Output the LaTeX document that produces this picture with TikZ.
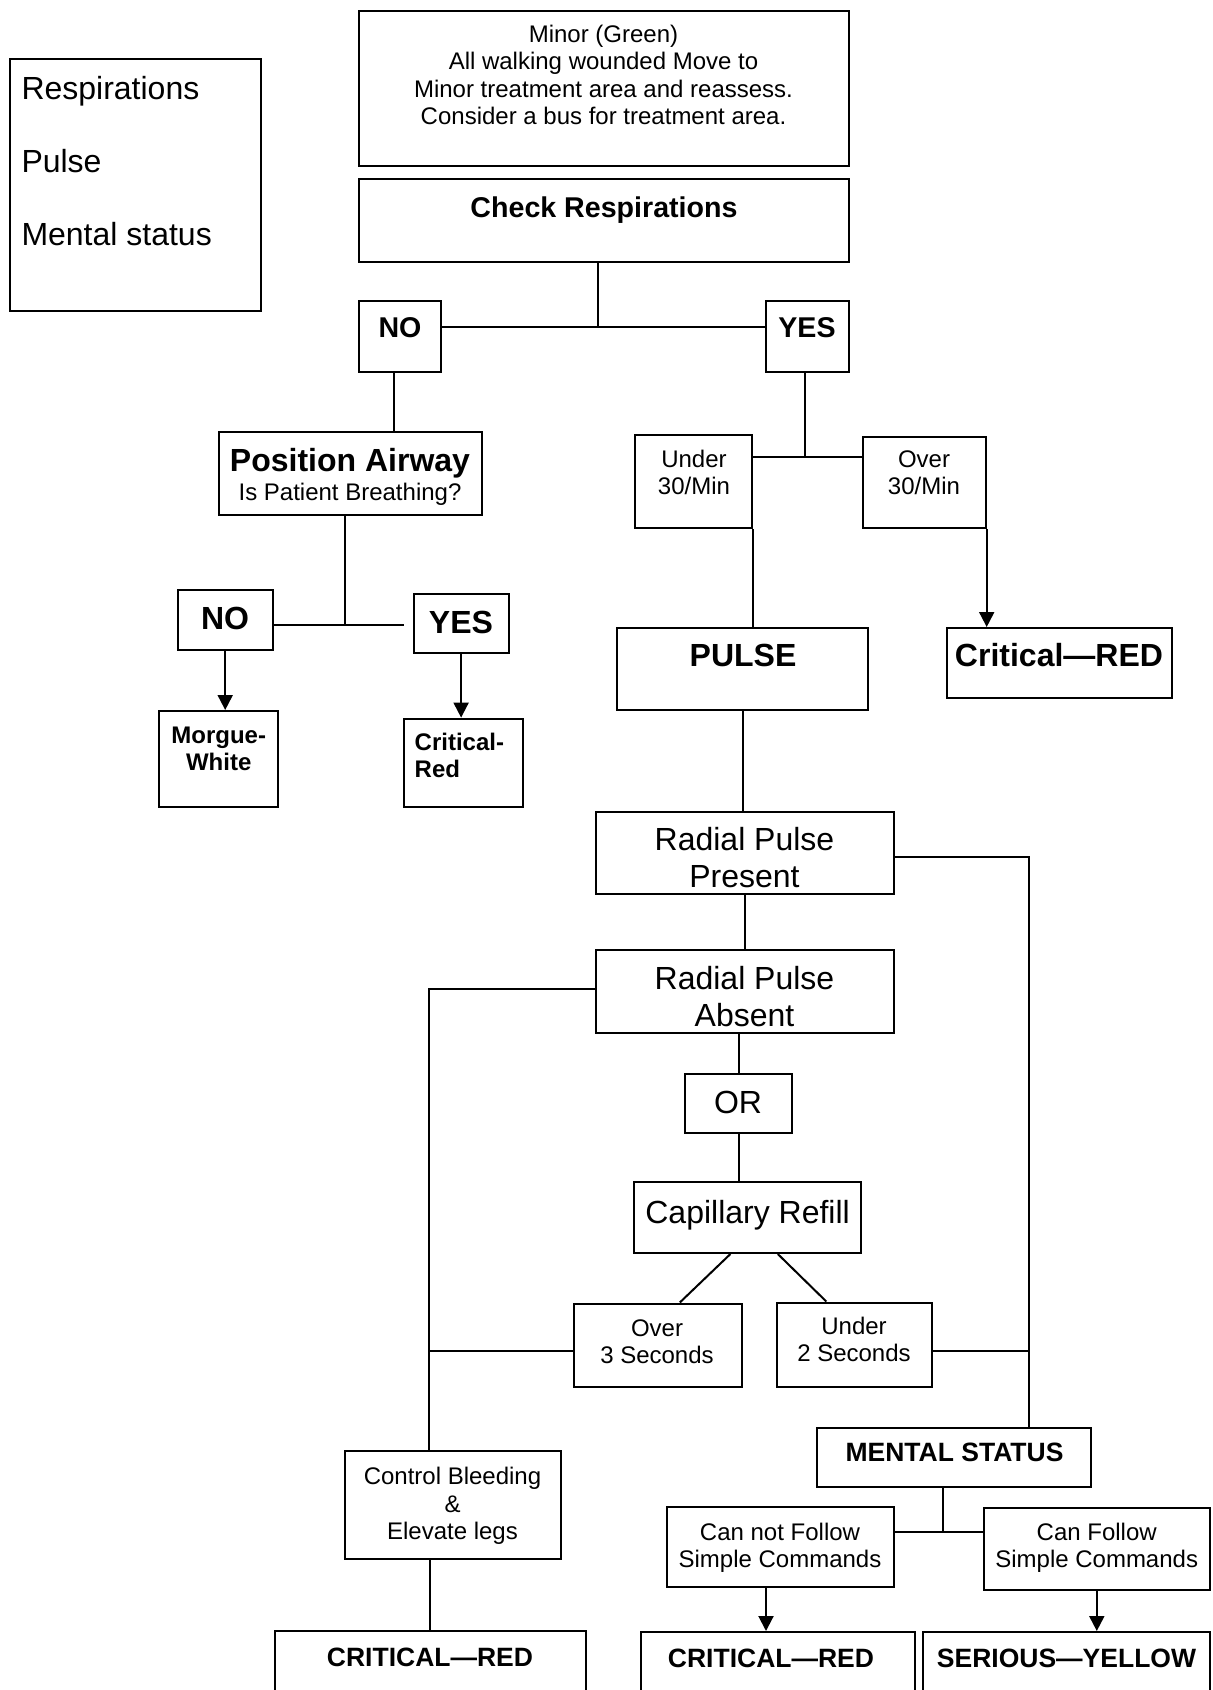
\documentclass[tikz,border=0pt]{standalone}
\usepackage{fontspec}
\setmainfont{Liberation Sans}
\usetikzlibrary{arrows.meta,fit}
\newcommand\mybox[5]{\node[box, fit={(#2,#3) (#4,#5)}] (#1) {};}
\begin{document}
\begin{tikzpicture}[x=0.5pt,y=-0.5pt, line width=1pt,
  box/.style={draw, inner sep=0pt},
  arr/.style={-{Triangle[length=7.5pt,width=7.5pt]}},
  tx/.style={inner sep=0pt, text depth=0pt, align=center},
  t12/.style={tx, font=\fontsize{12}{13.8}\selectfont, text height=8.6pt},
  t16/.style={tx, font=\fontsize{16}{18.3}\selectfont, text height=11.5pt},
  b12/.style={tx, font=\bfseries\fontsize{12}{13.2}\selectfont, text height=8.6pt},
  b13/.style={tx, font=\bfseries\fontsize{13.25}{15}\selectfont, text height=9.5pt},
  b14/.style={tx, font=\bfseries\fontsize{14.3}{16}\selectfont, text height=10.3pt},
  b16/.style={tx, font=\bfseries\fontsize{16}{18}\selectfont, text height=11.5pt}]
\useasboundingbox (0,0) rectangle (1212,1690);
% boxes
\mybox{leg}{9.7}{59}{261}{311}
\mybox{minor}{359}{11}{849}{166}
\mybox{chk}{359}{179}{849}{262}
\mybox{no}{359}{300.6}{440.6}{371.7}
\mybox{yes}{766}{300.6}{849}{371.7}
\mybox{pa}{218.7}{432}{481.6}{515}
\mybox{no2}{177.8}{590.4}{272.6}{649.6}
\mybox{yes2}{413.7}{593.6}{508.5}{652.8}
\mybox{mo}{159.4}{711}{278}{807}
\mybox{cr}{404}{718.6}{522.5}{807}
\mybox{un}{634.5}{435}{752}{528}
\mybox{ov}{863}{437.4}{985.7}{528}
\mybox{crit1}{947}{628}{1172}{698}
\mybox{pulse}{617}{628}{868}{710}
\mybox{rpp}{595.7}{812}{894}{894}
\mybox{rpa}{595.7}{950}{894}{1033}
\mybox{or}{685}{1074}{792}{1133}
\mybox{cap}{633.5}{1182}{861}{1253}
\mybox{o3}{574}{1303.5}{742}{1386.5}
\mybox{u2}{776.7}{1302.5}{932}{1386.5}
\mybox{cb}{344.7}{1451}{561}{1559}
\mybox{crit2}{274.7}{1631}{586}{1700}
\mybox{ms}{816.6}{1427.5}{1091}{1486.7}
\mybox{cnf}{666.8}{1507}{894}{1587}
\mybox{cf}{983.6}{1508}{1210}{1590}
\mybox{crit3}{641}{1632}{914.6}{1700}
\mybox{ser}{923}{1632}{1210}{1700}
% texts (multi-line nodes are placed at their last line)
\node[tx, anchor=west, align=left, font=\fontsize{16}{36.5}\selectfont, text height=11.5pt] (leg-t) at (20.5,234) {Respirations\\Pulse\\Mental status};
\node[t12] (minor-t) at (603.5,116.3) {Minor (Green)\\All walking wounded Move to\\Minor treatment area and reassess.\\Consider a bus for treatment area.};
\node[b14] (chk-t) at (604,207) {Check Respirations};
\node[b14] (no-t) at (400,327.5) {NO};
\node[b14] (yes-t) at (807,327.5) {YES};
\node[b16] (pa-t1) at (350,460) {Position Airway};
\node[t12] (pa-t2) at (350,492) {Is Patient Breathing?};
\node[b16] (no2-t) at (225,618) {NO};
\node[b16] (yes2-t) at (461,621.6) {YES};
\node[b12] (mo-t) at (218.7,761.7) {Morgue-\\White};
\node[b12, anchor=west, align=left, font=\bfseries\fontsize{12}{13.5}\selectfont] (cr-t) at (413.7,769) {Critical-\\Red};
\node[t12] (un-t) at (694,486) {Under\\30/Min};
\node[t12] (ov-t) at (924,486) {Over\\30/Min};
\node[b16] (crit1-t) at (1059,655) {Critical—RED};
\node[b16] (pulse-t) at (743,655) {PULSE};
\node[t16] (rpp-t) at (744.5,876) {Radial Pulse\\Present};
\node[t16] (rpa-t) at (744.5,1015) {Radial Pulse\\Absent};
\node[t16] (or-t) at (738,1102) {OR};
\node[t16] (cap-t) at (747.6,1212) {Capillary Refill};
\node[t12] (o3-t) at (657,1355) {Over\\3 Seconds};
\node[t12] (u2-t) at (854,1353) {Under\\2 Seconds};
\node[t12] (cb-t) at (452.5,1531) {Control Bleeding\\\&\\Elevate legs};
\node[b13] (crit2-t) at (430,1657) {CRITICAL—RED};
\node[b13] (ms-t) at (954.5,1452) {MENTAL STATUS};
\node[t12] (cnf-t) at (780,1559) {Can not Follow\\Simple Commands};
\node[t12] (cf-t) at (1096.7,1559) {Can Follow\\Simple Commands};
\node[b13] (crit3-t) at (771,1658) {CRITICAL—RED};
\node[b13] (ser-t) at (1066.5,1658) {SERIOUS—YELLOW};
% connectors
\coordinate (j1) at (598,327.5);
\draw (j1 |- chk.south) -- (j1);
\draw (no.east |- j1) -- (yes.west |- j1);
\coordinate (c1) at (394,0);
\draw (c1 |- no.south) -- (c1 |- pa.north);
\coordinate (j2) at (344.7,625);
\coordinate (j2e) at (404,625);
\draw (j2 |- pa.south) -- (j2);
\draw (no2.east |- j2) -- (j2e);
\draw[arr] (no2.south) -- (no2.south |- mo.north);
\draw[arr] (yes2.south) -- (yes2.south |- cr.north);
\coordinate (j3) at (804.7,456.8);
\draw (j3 |- yes.south) -- (j3);
\draw (un.east |- j3) -- (ov.west |- j3);
\draw (un.south east) -- (un.south east |- pulse.north);
\draw[arr] (ov.south east) -- (ov.south east |- crit1.north);
\draw (pulse.south) -- (pulse.south |- rpp.north);
\coordinate (j4) at (1029,856.5);
\draw (rpp.east |- j4) -- (j4) -- (j4 |- ms.north);
\draw (rpp.south) -- (rpp.south |- rpa.north);
\coordinate (j5) at (428.8,989);
\draw (rpa.west |- j5) -- (j5) -- (j5 |- cb.north);
\draw (or.north |- rpa.south) -- (or.north);
\draw (or.south) -- (or.south |- cap.north);
\coordinate (d1) at (730.4,0);
\coordinate (d2) at (679.8,0);
\coordinate (d3) at (777.8,0);
\coordinate (d4) at (826.3,0);
\draw (d1 |- cap.south) -- (d2 |- o3.north);
\draw (d3 |- cap.south) -- (d4 |- u2.north);
\coordinate (h1) at (0,1351);
\draw (o3.west |- h1) -- (j5 |- h1);
\draw (u2.east |- h1) -- (j4 |- h1);
\draw (crit2.north) -- (crit2.north |- cb.south);
\coordinate (j6) at (942.6,1532);
\draw (j6 |- ms.south) -- (j6);
\draw (cnf.east |- j6) -- (cf.west |- j6);
\coordinate (c2) at (766,0);
\draw[arr] (c2 |- cnf.south) -- (c2 |- crit3.north);
\draw[arr] (cf.south) -- (cf.south |- ser.north);
\end{tikzpicture}
\end{document}
